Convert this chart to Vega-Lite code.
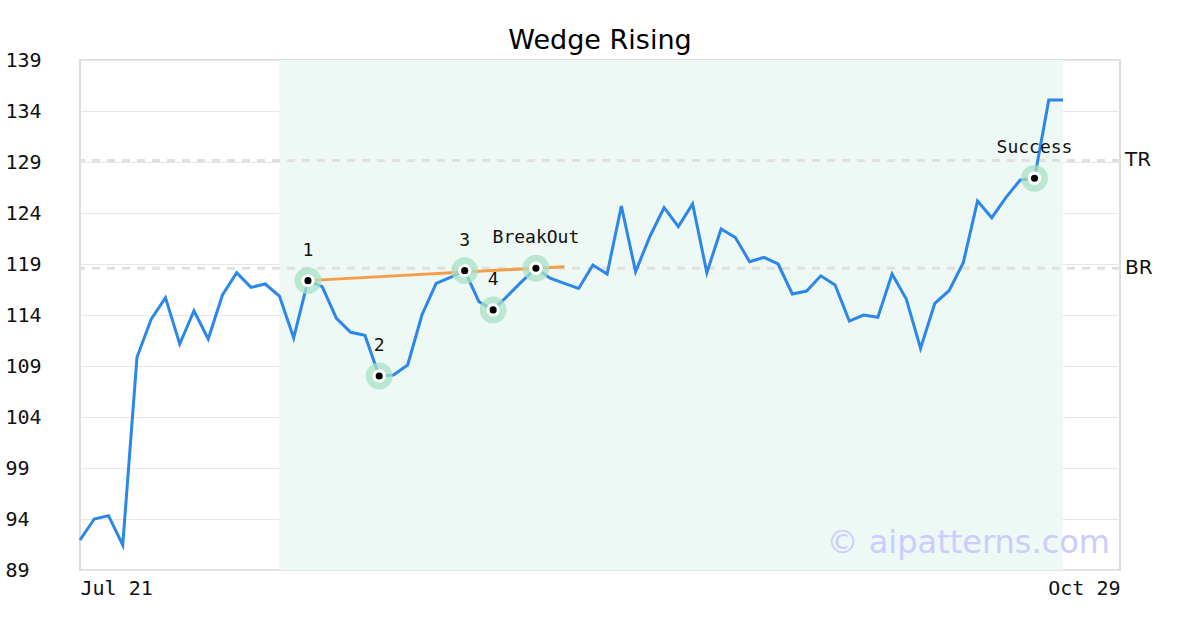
{
  "$schema": "https://vega.github.io/schema/vega-lite/v6.json",
  "width": 1040,
  "height": 510,
  "autosize": {"type": "none"},
  "padding": {"left": 80, "top": 60, "right": 80, "bottom": 60},
  "background": "white",
  "title": {"text": "Wedge Rising", "fontSize": 27, "font": "DejaVu Sans", "fontWeight": "normal", "color": "#000000", "offset": -5},
  "config": {
    "view": {"stroke": "#dddddd", "strokeWidth": 2},
    "axis": {"labelFont": "DejaVu Sans Mono", "labelFontSize": 20, "labelColor": "#111111"}
  },
  "datasets": {
    "price": [
      {"i": 0, "v": 91.94}, {"i": 1, "v": 94.0}, {"i": 2, "v": 94.33}, {"i": 3, "v": 91.45},
      {"i": 4, "v": 109.85}, {"i": 5, "v": 113.6}, {"i": 6, "v": 115.7}, {"i": 7, "v": 111.16},
      {"i": 8, "v": 114.42}, {"i": 9, "v": 111.65}, {"i": 10, "v": 115.96}, {"i": 11, "v": 118.15},
      {"i": 12, "v": 116.71}, {"i": 13, "v": 117.04}, {"i": 14, "v": 115.86}, {"i": 15, "v": 111.75},
      {"i": 16, "v": 117.37}, {"i": 17, "v": 116.78}, {"i": 18, "v": 113.67}, {"i": 19, "v": 112.3},
      {"i": 20, "v": 112.0}, {"i": 21, "v": 108.02}, {"i": 22, "v": 108.12}, {"i": 23, "v": 109.1},
      {"i": 24, "v": 114.0}, {"i": 25, "v": 117.1}, {"i": 26, "v": 117.7}, {"i": 27, "v": 118.35},
      {"i": 28, "v": 115.3}, {"i": 29, "v": 114.5}, {"i": 30, "v": 115.86}, {"i": 31, "v": 117.27},
      {"i": 32, "v": 118.58}, {"i": 33, "v": 117.6}, {"i": 34, "v": 117.1}, {"i": 35, "v": 116.6},
      {"i": 36, "v": 118.9}, {"i": 37, "v": 118.02}, {"i": 38, "v": 124.69}, {"i": 39, "v": 118.25},
      {"i": 40, "v": 121.7}, {"i": 41, "v": 124.52}, {"i": 42, "v": 122.66}, {"i": 43, "v": 124.88},
      {"i": 44, "v": 118.15}, {"i": 45, "v": 122.43}, {"i": 46, "v": 121.6}, {"i": 47, "v": 119.23},
      {"i": 48, "v": 119.65}, {"i": 49, "v": 119.0}, {"i": 50, "v": 116.06}, {"i": 51, "v": 116.35},
      {"i": 52, "v": 117.84}, {"i": 53, "v": 116.94}, {"i": 54, "v": 113.41}, {"i": 55, "v": 114.0},
      {"i": 56, "v": 113.77}, {"i": 57, "v": 118.02}, {"i": 58, "v": 115.57}, {"i": 59, "v": 110.73},
      {"i": 60, "v": 115.15}, {"i": 61, "v": 116.38}, {"i": 62, "v": 119.13}, {"i": 63, "v": 125.18},
      {"i": 64, "v": 123.54}, {"i": 65, "v": 125.54}, {"i": 66, "v": 127.24}, {"i": 67, "v": 127.4},
      {"i": 68, "v": 135.08}, {"i": 69, "v": 135.08}
    ],
    "marks": [
      {"i": 16, "v": 117.37, "label": "1"},
      {"i": 21, "v": 108.02, "label": "2"},
      {"i": 27, "v": 118.35, "label": "3"},
      {"i": 29, "v": 114.5, "label": "4"},
      {"i": 32, "v": 118.58, "label": "BreakOut"},
      {"i": 67, "v": 127.4, "label": "Success"}
    ],
    "trend": [
      {"i": 16, "v": 117.37},
      {"i": 34, "v": 118.74}
    ],
    "levels": [
      {"lvl": "TR", "v": 129.15, "edge": 73},
      {"lvl": "BR", "v": 118.58, "edge": 73}
    ],
    "zone": [
      {"start": 14, "end": 69}
    ]
  },
  "encoding": {
    "x": {"field": "i", "type": "quantitative", "scale": {"domain": [0, 73], "nice": false, "zero": false},
      "axis": {"values": [0, 73], "labelExpr": "datum.value == 0 ? 'Jul 21' : 'Oct 29'", "grid": false, "domain": false, "ticks": false, "labelPadding": 8, "labelFlush": true, "title": null}},
    "y": {"field": "v", "type": "quantitative", "scale": {"domain": [89, 139], "nice": false, "zero": false},
      "axis": {"values": [89, 94, 99, 104, 109, 114, 119, 124, 129, 134, 139], "grid": true, "gridColor": "#e6e6e6", "gridWidth": 1, "domain": false, "ticks": false, "labelAlign": "left", "labelPadding": 75, "title": null}}
  },
  "layer": [
    {
      "data": {"name": "zone"},
      "mark": {"type": "rect", "fill": "#eef8f4", "opacity": 1},
      "encoding": {
        "x": {"field": "start", "type": "quantitative"},
        "x2": {"field": "end"},
        "y": null
      }
    },
    {
      "data": {"name": "levels"},
      "mark": {"type": "rule", "color": "#e0e0e0", "strokeWidth": 3, "strokeDash": [8, 7]},
      "encoding": {"x": null, "y": {"field": "v", "type": "quantitative"}}
    },
    {
      "data": {"name": "levels"},
      "mark": {"type": "text", "align": "left", "baseline": "middle", "dx": 5, "fontSize": 20, "font": "DejaVu Sans", "color": "#111111", "clip": false},
      "encoding": {"x": {"field": "edge", "type": "quantitative"}, "y": {"field": "v", "type": "quantitative"}, "text": {"field": "lvl", "type": "nominal"}}
    },
    {
      "data": {"name": "price"},
      "mark": {"type": "text", "text": "© aipatterns.com", "align": "right", "baseline": "alphabetic", "dx": -10, "dy": -17, "fontSize": 32, "font": "DejaVu Sans", "color": "#ccccff"},
      "transform": [{"filter": "datum.i == 69"}],
      "encoding": {"x": {"datum": 73}, "y": {"datum": 89}}
    },
    {
      "data": {"name": "price"},
      "mark": {"type": "line", "color": "#2b87e8", "strokeWidth": 3}
    },
    {
      "data": {"name": "trend"},
      "mark": {"type": "line", "color": "#f79d45", "strokeWidth": 3}
    },
    {
      "data": {"name": "marks"},
      "mark": {"type": "point", "filled": true, "size": 720, "color": "#a8e2c6", "opacity": 0.75}
    },
    {
      "data": {"name": "marks"},
      "mark": {"type": "point", "filled": true, "size": 180, "color": "white", "opacity": 1}
    },
    {
      "data": {"name": "marks"},
      "mark": {"type": "point", "filled": true, "size": 50, "color": "black", "opacity": 1}
    },
    {
      "data": {"name": "marks"},
      "mark": {"type": "text", "dy": -30, "fontSize": 18, "font": "DejaVu Sans Mono", "color": "#111111", "baseline": "middle"},
      "encoding": {"text": {"field": "label"}}
    }
  ]
}
